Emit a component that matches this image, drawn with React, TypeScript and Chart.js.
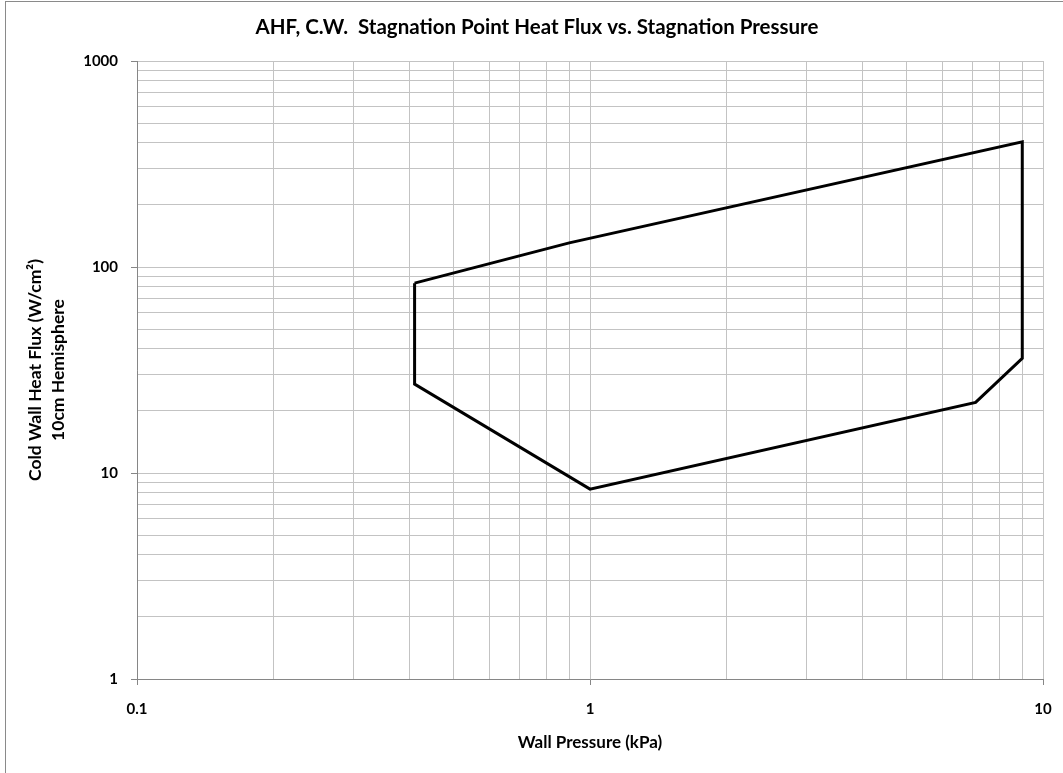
import React, { useEffect, useRef } from 'react';
import { Chart, registerables } from 'chart.js';

Chart.register(...registerables);

const CHART_TITLE = 'AHF, C.W.  Stagnation Point Heat Flux vs. Stagnation Pressure';
const X_TITLE = 'Wall Pressure (kPa)';
const Y_TITLE = ['Cold Wall Heat Flux (W/cm²)', '10cm Hemisphere'];

// Envelope outline (closed polygon)
const PRESSURE_KPA = [0.41, 0.9, 9.0, 9.0, 7.1, 1.0, 0.41, 0.41];
const HEAT_FLUX = [83.5, 131, 405, 36, 22, 8.35, 27, 83.5];

const X_MAJOR = [0.1, 1, 10];
const Y_MAJOR = [1, 10, 100, 1000];

const FONT = 'Lato, "Open Sans", sans-serif';
const GRID_COLOR = '#c3c3c3';
const AXIS_COLOR = '#868686';

function logGrid(majors: number[]): number[] {
  const out: number[] = [];
  for (let i = 0; i < majors.length - 1; i++) {
    for (let k = 1; k < 10; k++) out.push(Number((majors[i] * k).toPrecision(6)));
  }
  out.push(majors[majors.length - 1]);
  return out;
}

const X_GRID = logGrid(X_MAJOR);
const Y_GRID = logGrid(Y_MAJOR);

const titlePlugin = {
  id: 'customTitle',
  afterDraw(chart: any) {
    const ctx = chart.ctx;
    ctx.save();
    ctx.font = `bold 20.5px ${FONT}`;
    ctx.fillStyle = '#000';
    ctx.textAlign = 'center';
    ctx.textBaseline = 'middle';
    ctx.fillText(CHART_TITLE, 537, 27);
    ctx.restore();
  },
};

export default function App() {
  const ref = useRef<HTMLCanvasElement | null>(null);

  useEffect(() => {
    if (!ref.current) return;
    const data = PRESSURE_KPA.map((x, i) => ({ x, y: HEAT_FLUX[i] }));
    const tickColor = (c: any) => (c.tick && c.tick.major ? AXIS_COLOR : 'rgba(0,0,0,0)');
    const chart = new Chart(ref.current, {
      type: 'scatter',
      data: {
        datasets: [
          {
            data,
            showLine: true,
            borderColor: '#000',
            borderWidth: 3,
            pointRadius: 0,
            tension: 0,
            fill: false,
          },
        ],
      },
      options: {
        responsive: false,
        animation: false,
        layout: { padding: { left: 0, top: 61, right: 20, bottom: 0 } },
        plugins: {
          legend: { display: false },
          tooltip: { enabled: false },
          title: { display: false },
        },
        scales: {
          x: {
            type: 'logarithmic',
            position: 'bottom',
            min: 0.1,
            max: 10,
            afterBuildTicks: (s: any) => {
              s.ticks = X_GRID.map((v) => ({ value: v, major: X_MAJOR.includes(v) }));
            },
            afterFit: (s: any) => {
              s.height = 94;
              s.paddingLeft = 10;
              s.paddingRight = 10;
            },
            grid: { color: GRID_COLOR, lineWidth: 1, drawTicks: true, tickLength: 6, tickColor },
            border: { color: AXIS_COLOR, width: 1 },
            ticks: {
              autoSkip: false,
              maxRotation: 0,
              padding: 15,
              color: '#000',
              font: { family: FONT, size: 15, weight: 'bold' },
              callback: (v: any) => (X_MAJOR.includes(Number(v)) ? String(v) : ''),
            },
            title: {
              display: true,
              text: X_TITLE,
              color: '#000',
              font: { family: FONT, size: 17, weight: 'bold', lineHeight: 1.2 },
              padding: { top: 0, bottom: 20 },
            },
          },
          y: {
            type: 'logarithmic',
            position: 'left',
            min: 1,
            max: 1000,
            afterBuildTicks: (s: any) => {
              s.ticks = Y_GRID.map((v) => ({ value: v, major: Y_MAJOR.includes(v) }));
            },
            afterFit: (s: any) => {
              s.width = 137;
              s.paddingTop = 10;
              s.paddingBottom = 10;
            },
            grid: { color: GRID_COLOR, lineWidth: 1, drawTicks: true, tickLength: 6, tickColor },
            border: { color: AXIS_COLOR, width: 1 },
            ticks: {
              autoSkip: false,
              padding: 13,
              color: '#000',
              font: { family: FONT, size: 15, weight: 'bold' },
              callback: (v: any) => (Y_MAJOR.includes(Number(v)) ? String(v) : ''),
            },
            title: {
              display: true,
              text: Y_TITLE,
              color: '#000',
              font: { family: FONT, size: 17.5, weight: 'bold', lineHeight: 1.31 },
              padding: { top: 23.5, bottom: 0 },
            },
          },
        },
      } as any,
      plugins: [titlePlugin],
    });
    return () => chart.destroy();
  }, []);

  return (
    <div
      style={{
        position: 'fixed',
        left: 0,
        top: 0,
        width: 1063,
        height: 773,
        overflow: 'hidden',
        background: '#fff',
      }}
    >
      <div
        style={{
          position: 'absolute',
          left: 5,
          top: 1,
          width: 2000,
          height: 2000,
          border: '1px solid #8a8a8a',
        }}
      />
      <canvas
        ref={ref}
        width={1063}
        height={773}
        style={{ position: 'absolute', left: 0, top: 0, width: 1063, height: 773 }}
      />
    </div>
  );
}
